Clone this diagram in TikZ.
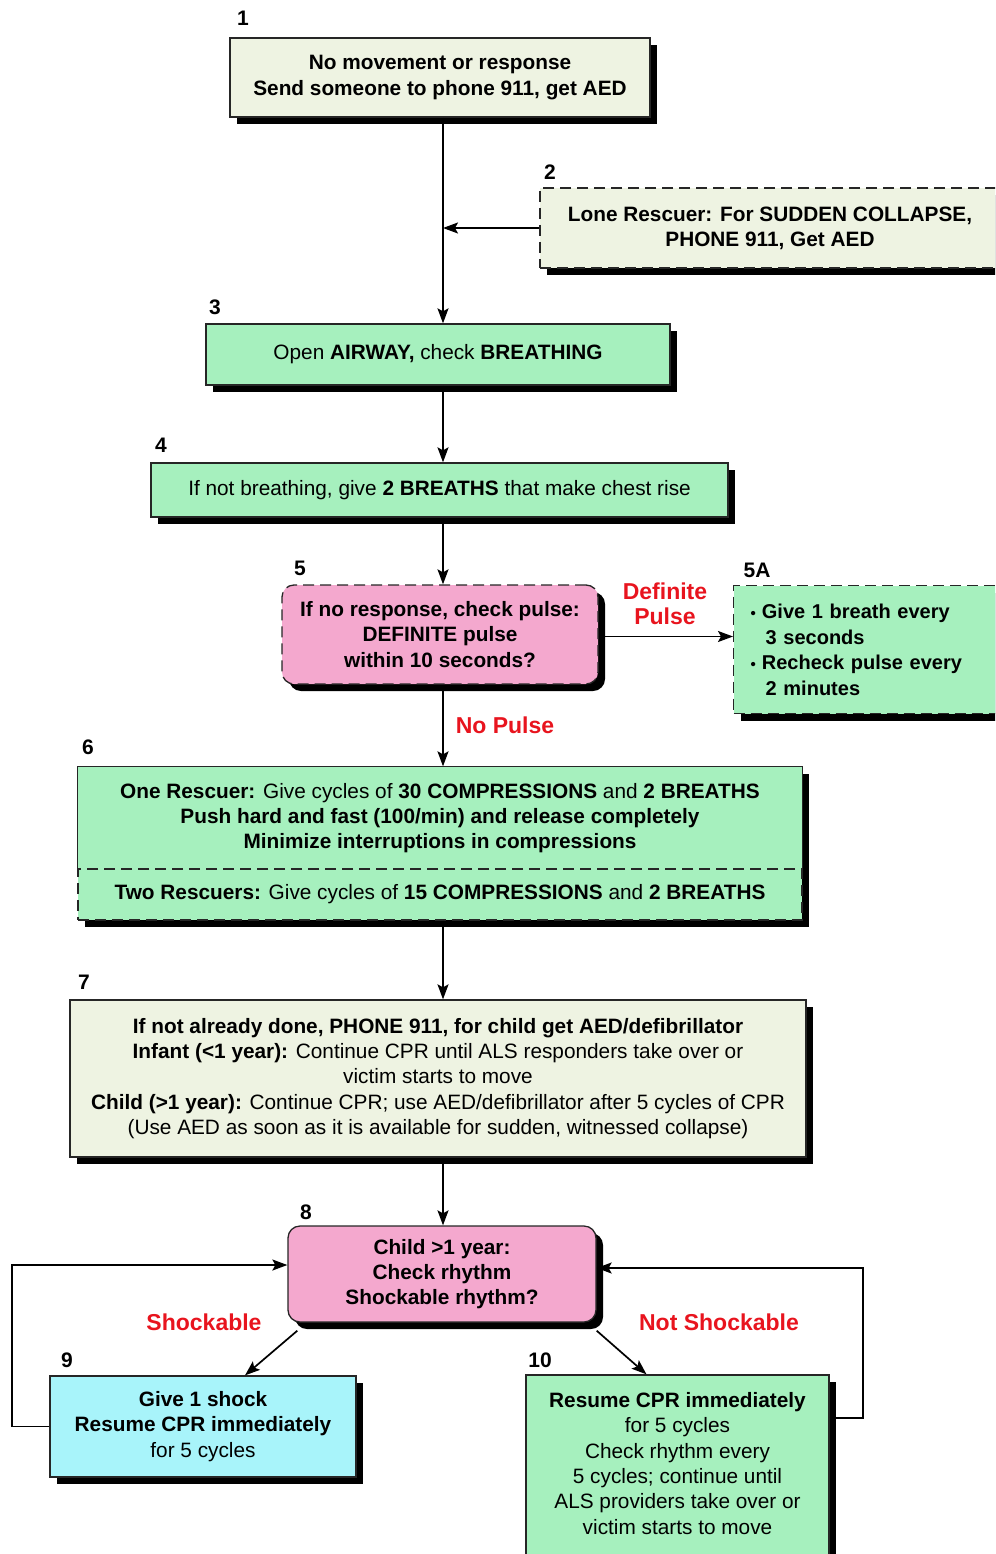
\documentclass[tikz,border=0pt]{standalone}
\usepackage{fontspec}
\setmainfont{Liberation Sans}
\usetikzlibrary{arrows.meta,shadows}
\definecolor{beige}{RGB}{238,243,226}
\definecolor{mint}{RGB}{166,240,190}
\definecolor{rose}{RGB}{244,168,206}
\definecolor{aqua}{RGB}{168,244,250}
\definecolor{alarm}{RGB}{232,20,30}
\tikzset{
  box/.style={draw=black!85, line width=1.3pt, align=center, inner sep=0pt,
    font=\fontsize{20.8}{25.3}\selectfont,
    drop shadow={shadow xshift=7pt, shadow yshift=-7pt, fill=black, opacity=1}},
  boldbox/.style={box, font=\fontsize{20.8}{25.3}\selectfont\bfseries},
  dashedbox/.style={box, dash pattern=on 11pt off 6pt},
  numlab/.style={font=\fontsize{21}{21}\selectfont\bfseries},
  redlab/.style={font=\fontsize{23}{25}\selectfont\bfseries, text=alarm, align=center},
  arr/.style={line width=1.7pt, -{Stealth[length=15pt,width=11pt,inset=3pt]}}
}
\begin{document}
\begin{tikzpicture}[x=1pt,y=-1pt]
\useasboundingbox (0,0) rectangle (995,1554);
\clip (0,0) rectangle (995,1554);
\coordinate (axis) at (443,0);
\coordinate (lx) at (12,0);
\coordinate (rx) at (863,0);

% boxes
\node[boldbox, fill=beige, minimum width=420pt, minimum height=79pt] (b1) at (440,77.5)
  {No movement or response\\Send someone to phone 911, get AED};
\node[boldbox, dash pattern=on 11pt off 6pt, fill=beige, minimum width=460pt, minimum height=80pt] (b2) at (770,228)
  {Lone Rescuer: For SUDDEN COLLAPSE,\\PHONE 911, Get AED};
\node[box, fill=mint, minimum width=464pt, minimum height=61pt] (b3) at (438,354.5)
  {Open \textbf{AIRWAY,} check \textbf{BREATHING}};
\node[box, fill=mint, minimum width=577pt, minimum height=54pt] (b4) at (439.5,490)
  {If not breathing, give \textbf{2 BREATHS} that make chest rise};
\node[boldbox, dash pattern=on 11pt off 6pt, fill=rose, rounded corners=12pt, minimum width=316pt, minimum height=99pt] (b5) at (440,634.5)
  {If no response, check pulse:\\DEFINITE pulse\\within 10 seconds?};
\node[boldbox, dash pattern=on 11pt off 6pt, fill=mint, anchor=north west, align=left, font=\fontsize{20}{25.5}\selectfont\bfseries, text width=245pt, inner xsep=17pt, minimum height=128pt] (b5a) at (733,585)
  {{\fontsize{15}{15}\selectfont\textbullet}\hspace{6pt}Give 1 breath every\\\hspace{15pt}3 seconds\\{\fontsize{15}{15}\selectfont\textbullet}\hspace{6pt}Recheck pulse every\\\hspace{15pt}2 minutes};
\node[box, draw=none, fill=mint, minimum width=724pt, minimum height=102pt] (b6a) at (440,818)
  {\textbf{One Rescuer:} Give cycles of \textbf{30 COMPRESSIONS} and \textbf{2 BREATHS}\\
   \textbf{Push hard and fast (100/min) and release completely}\\
   \textbf{Minimize interruptions in compressions}};
\draw[black!85, line width=1.3pt] (b6a.south west) -- (b6a.north west) -- (b6a.north east) -- (b6a.south east);
\node[dashedbox, fill=mint, minimum width=724pt, minimum height=51pt] (b6b) at (440,894.5)
  {\textbf{Two Rescuers:} Give cycles of \textbf{15 COMPRESSIONS} and \textbf{2 BREATHS}};
\node[box, fill=beige, minimum width=736pt, minimum height=157pt] (b7) at (438,1078.5)
  {\textbf{If not already done, PHONE 911, for child get AED/defibrillator}\\
   \textbf{Infant (<1 year):} Continue CPR until ALS responders take over or\\
   victim starts to move\\
   \textbf{Child (>1 year):} Continue CPR; use AED/defibrillator after 5 cycles of CPR\\
   (Use AED as soon as it is available for sudden, witnessed collapse)};
\node[boldbox, fill=rose, rounded corners=12pt, minimum width=308pt, minimum height=96pt] (b8) at (442,1274)
  {Child >1 year:\\Check rhythm\\Shockable rhythm?};
\node[box, fill=aqua, minimum width=306pt, minimum height=101pt] (b9) at (203,1426.5)
  {\textbf{Give 1 shock}\\\textbf{Resume CPR immediately}\\for 5 cycles};
\node[box, fill=mint, minimum width=303pt, minimum height=190pt] (b10) at (677.5,1470)
  {\textbf{Resume CPR immediately}\\for 5 cycles\\Check rhythm every\\5 cycles; continue until\\ALS providers take over or\\victim starts to move\\[-12pt]};

% step numbers
\node[numlab] (n1) at (243,18) {1};
\node[numlab] (n2) at (550,172) {2};
\node[numlab] (n3) at (215,307) {3};
\node[numlab] (n4) at (161,445) {4};
\node[numlab] (n5) at (300,568) {5};
\node[numlab] (n5a) at (757,570) {5A};
\node[numlab] (n6) at (88,747) {6};
\node[numlab] (n7) at (84,982) {7};
\node[numlab] (n8) at (306,1212) {8};
\node[numlab] (n9) at (67,1360) {9};
\node[numlab] (n10) at (540,1360) {10};

% red labels
\node[redlab] (ldp) at (665,604) {Definite\\Pulse};
\node[redlab] (lnp) at (505,725) {No Pulse};
\node[redlab] (lsh) at (204,1322) {Shockable};
\node[redlab] (lns) at (719,1322) {Not Shockable};

% connectors
\draw[arr] (axis |- b1.south) -- (axis |- b3.north);
\draw[arr] (b2.west) -- (axis |- b2.west);
\draw[arr] (axis |- b3.south) -- (axis |- b4.north);
\draw[arr] (axis |- b4.south) -- (axis |- b5.north);
\draw[arr] ([yshift=-2pt]b5.east) -- ([yshift=-2pt]b5.east -| b5a.west);
\draw[arr] (axis |- b5.south) -- (axis |- b6a.north);
\draw[arr] (axis |- b6b.south) -- (axis |- b7.north);
\draw[arr] (axis |- b7.south) -- (axis |- b8.north);
\draw[arr] ([xshift=10pt,yshift=-8pt]b8.south west) -- ([xshift=42pt]b9.north);
\draw[arr] ([yshift=-8pt]b8.south east) -- ([xshift=-31pt]b10.north);
\draw[arr] (b9.west) -- (b9.west -| lx) |- ([yshift=9pt]b8.west);
\draw[arr] ([yshift=52pt]b10.east) -- ([yshift=52pt]b10.east -| rx) |- ([yshift=6pt]b8.east);
\end{tikzpicture}
\end{document}
